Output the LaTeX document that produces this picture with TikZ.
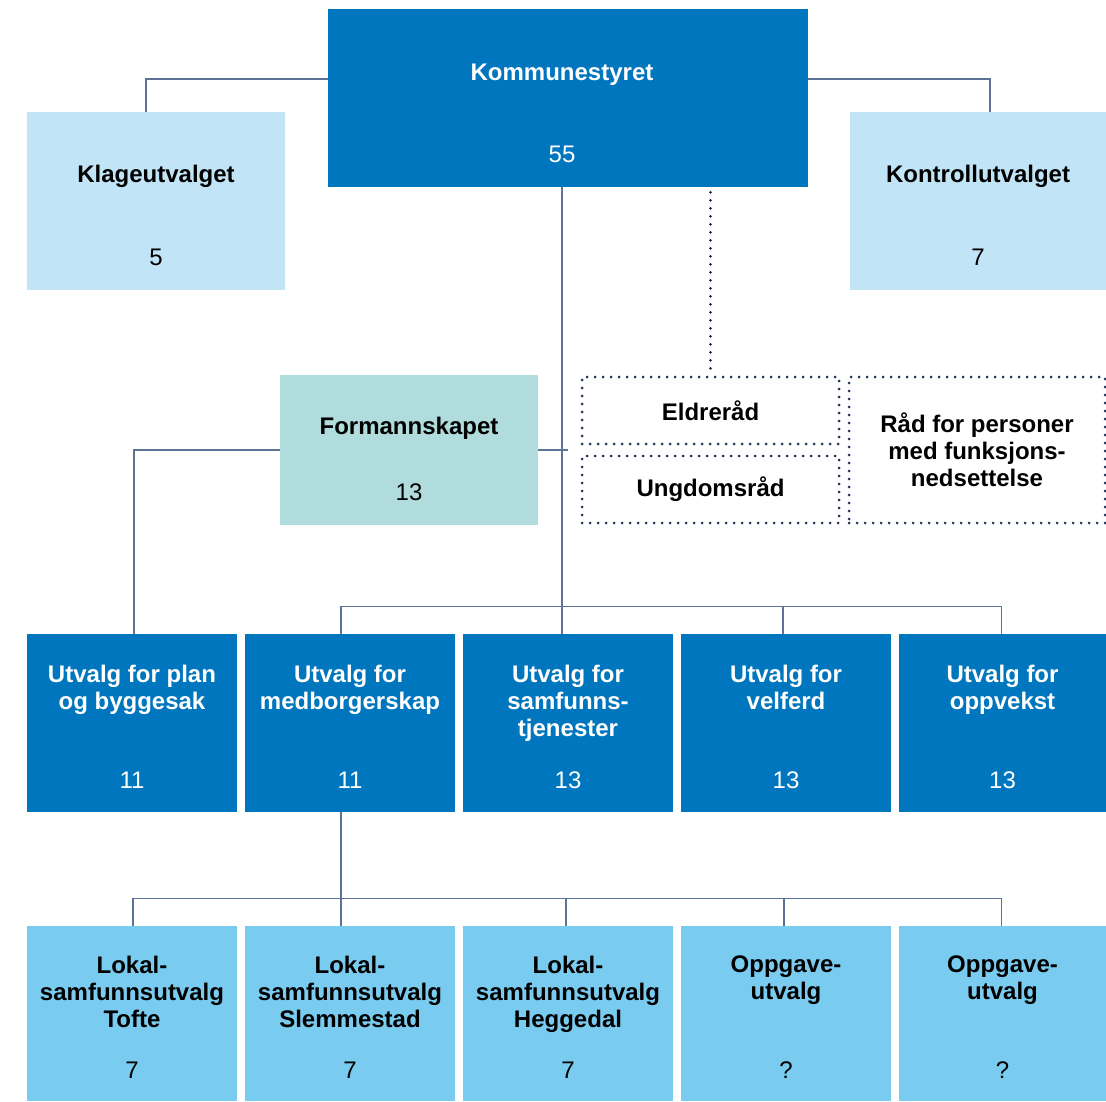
\documentclass[tikz,border=0pt]{standalone}
\usepackage{fontspec}
\setmainfont{Liberation Sans}
\usetikzlibrary{positioning}

\definecolor{ksblue}{RGB}{0,118,190}
\definecolor{paleblue}{RGB}{193,229,247}
\definecolor{skyblue}{RGB}{122,203,240}
\definecolor{teal}{RGB}{176,220,222}
\definecolor{linkgray}{RGB}{90,115,150}
\definecolor{dotnavy}{RGB}{30,50,85}

\begin{document}
\begin{tikzpicture}[x=0.5pt,y=-0.5pt,
    box/.style={draw=none,inner sep=0pt,minimum width=105pt,minimum height=89pt},
    title/.style={inner sep=0pt,align=center,anchor=north,font=\fontsize{12}{13.5}\selectfont\bfseries,
        execute at begin node=\rule{0pt}{9pt}},
    num/.style={inner sep=0pt,anchor=base,font=\fontsize{12}{14}\selectfont},
    dotted line/.style={draw=dotnavy,line width=1.5pt,dash pattern=on 0pt off 4pt,line cap=round},
    dotbox/.style={dotted line,inner sep=0pt,align=center,font=\fontsize{12}{13.5}\selectfont\bfseries},
    link/.style={draw=linkgray,line width=0.75pt}]
        % Background
        \useasboundingbox[fill=white] (0,0) rectangle (1106,1101);

        % Top
        \node[box,fill=ksblue,minimum width=240pt] (ks) at (568,98) {};
        \node[title,text=white] at ([xshift=-3pt,yshift=-27pt]ks.north) {Kommunestyret};
        \node[num,text=white] at ([xshift=-3pt,yshift=12.5pt]ks.south) {55};

        \node[box,fill=paleblue,minimum width=129pt] (klage) at (156,201) {};
        \node[title] at ([yshift=-26.5pt]klage.north) {Klageutvalget};
        \node[num] at ([yshift=12.5pt]klage.south) {5};

        \node[box,fill=paleblue,minimum width=128pt] (kontroll) at (978,201) {};
        \node[title] at ([yshift=-26.5pt]kontroll.north) {Kontrollutvalget};
        \node[num] at ([yshift=12.5pt]kontroll.south) {7};

        \node[box,fill=teal,minimum width=129pt,minimum height=75pt] (formann) at (409,450) {};
        \node[title] at ([yshift=-20.5pt]formann.north) {Formannskapet};
        \node[num] at ([yshift=12.5pt]formann.south) {13};

        % Councils
        \node[dotbox,minimum width=128.5pt,minimum height=33.5pt] (eldre) at (710.5,410.5) {Eldreråd};
        \node[dotbox,minimum width=128.5pt,minimum height=33.5pt] (ungdom) at (710.5,489.5) {Ungdomsråd};
        \node[dotbox,minimum width=128pt,minimum height=73pt] (raad) at (977,450) {Råd for personer\\med funksjons-\\nedsettelse};

        % Committees
        \foreach \nm/\x/\w/\txt/\num in {plan/132/210/{Utvalg for plan\\og byggesak}/11,
            medb/350/210/{Utvalg for\\medborgerskap}/11,
            samf/568/210/{Utvalg for\\samfunns-\\tjenester}/13,
            velf/786/210/{Utvalg for\\velferd}/13,
            oppv/1002.5/207/{Utvalg for\\oppvekst}/13} {
            \node[box,fill=ksblue,minimum width=\w*0.5pt] (\nm) at (\x,723) {};
            \node[title,text=white] at ([yshift=-15.5pt]\nm.north) {\txt};
            \node[num,text=white] at ([yshift=12pt]\nm.south) {\num};
        }

        \foreach \nm/\x/\w/\txt/\num in {tofte/132/210/{Lokal-\\samfunnsutvalg\\Tofte}/7,
            slem/350/210/{Lokal-\\samfunnsutvalg\\Slemmestad}/7,
            hegg/568/210/{Lokal-\\samfunnsutvalg\\Heggedal}/7,
            oppgA/786/210/{Oppgave-\\utvalg}/?,
            oppgB/1002.5/207/{Oppgave-\\utvalg}/?} {
            \node[box,fill=skyblue,minimum width=\w*0.5pt,minimum height=87.5pt] (\nm) at (\x,1013.5) {};
            \node[title] at ([yshift=-15pt]\nm.north) {\txt};
            \node[num] at ([yshift=11.5pt]\nm.south) {\num};
        }

        % Lines
        \draw[link] ([yshift=9.5pt]ks.west) -| ([xshift=-5pt]klage.north);
        \draw[link] ([yshift=9.5pt]ks.east) -| ([xshift=6pt]kontroll.north);
        \draw[link] ([xshift=-3pt]ks.south) -- ([xshift=-3pt]samf.north);
        \draw[link] (formann.east) -- (formann.east -| samf.north);
        \draw[link] (formann.west) -| ([xshift=1pt]plan.north);
        \draw[link] ([xshift=-4.5pt]medb.north) -- ++(0,13.5pt) -| ([xshift=-0.5pt]oppv.north);
        \draw[link] ([xshift=-1.5pt]velf.north) -- ++(0,13.5pt);
        \draw[link] ([xshift=-4.5pt]medb.south) -- ([xshift=-4.5pt]slem.north);
        \draw[link] ([xshift=0.5pt]tofte.north) -- ++(0,13.5pt) -| ([xshift=-0.5pt]oppgB.north);
        \foreach \nm in {hegg,oppgA} {
            \draw[link] ([xshift=-1pt]\nm.north) -- ++(0,13.5pt);
        }
        \draw[dotted line] ([yshift=-2.5pt]ks.south -| eldre.north) -- (eldre.north);

    \end{tikzpicture}
\end{document}
